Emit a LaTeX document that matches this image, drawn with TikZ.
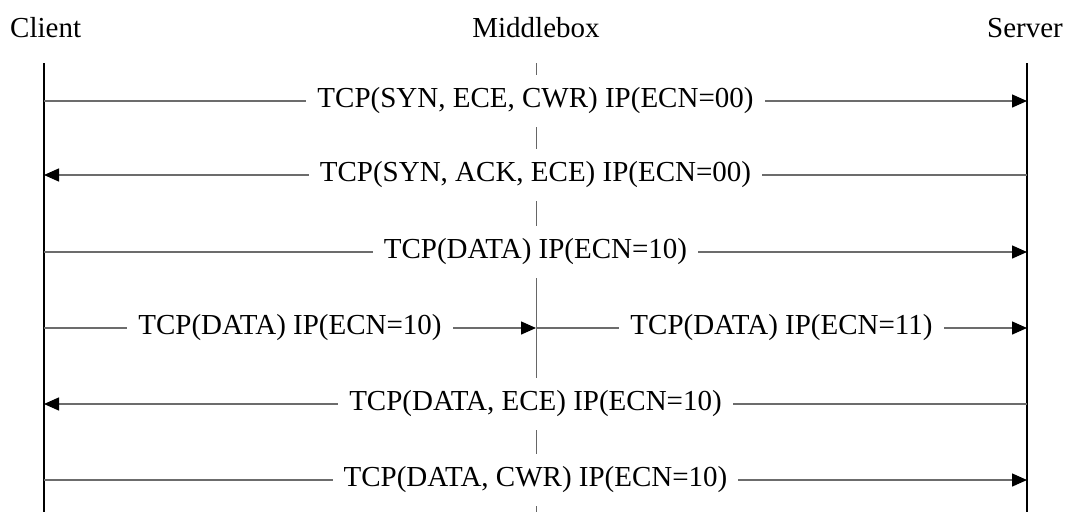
\documentclass[tikz,border=0pt]{standalone}
\usepackage{fontspec}
\setmainfont{Liberation Serif}
\usetikzlibrary{arrows.meta}
\tikzset{
  hdr/.style={inner sep=0pt,font=\fontsize{29}{34}\selectfont},
  life/.style={line width=1.1pt,black},
  midlife/.style={line width=1pt,gray!80!black},
  msg/.style={line width=1.4pt,gray!85!black,-{Triangle[length=15pt,width=13pt,black]}},
  lbl/.style={fill=white,inner xsep=11pt,inner ysep=13pt,font=\fontsize{29}{34}\selectfont,text=black}
}
\begin{document}
\begin{tikzpicture}[x=1pt,y=-1pt]
\useasboundingbox (0,0) rectangle (1065,512);
% headers
\node[hdr,anchor=base west] (client) at (10,37) {Client};
\node[hdr,anchor=base] (middle) at (536,37) {Middlebox};
\node[hdr,anchor=base east] (server) at (1063,37) {Server};
% lifeline ends
\coordinate (ctop) at (44,63);
\coordinate (cbot) at (44,512);
\coordinate (mtop) at (536,63);
\coordinate (mbot) at (536,512);
\coordinate (stop) at (1027,63);
\coordinate (sbot) at (1027,512);
% rows
\coordinate (r1) at (0,101);
\coordinate (r2) at (0,175);
\coordinate (r3) at (0,252);
\coordinate (r4) at (0,328);
\coordinate (r5) at (0,404);
\coordinate (r6) at (0,480);
% lifelines
\draw[life] (ctop) -- (cbot);
\draw[life] (stop) -- (sbot);
\draw[midlife] (mtop) -- (mbot);
% messages
\draw[msg] (ctop|-r1) -- node[lbl] (m1) {TCP(SYN, ECE, CWR) IP(ECN=00)} (stop|-r1);
\draw[msg] (stop|-r2) -- node[lbl] (m2) {TCP(SYN, ACK, ECE) IP(ECN=00)} (ctop|-r2);
\draw[msg] (ctop|-r3) -- node[lbl] (m3) {TCP(DATA) IP(ECN=10)} (stop|-r3);
\draw[msg] (ctop|-r4) -- node[lbl] (m4a) {TCP(DATA) IP(ECN=10)} (mtop|-r4);
\draw[msg] (mtop|-r4) -- node[lbl] (m4b) {TCP(DATA) IP(ECN=11)} (stop|-r4);
\draw[msg] (stop|-r5) -- node[lbl] (m5) {TCP(DATA, ECE) IP(ECN=10)} (ctop|-r5);
\draw[msg] (ctop|-r6) -- node[lbl] (m6) {TCP(DATA, CWR) IP(ECN=10)} (stop|-r6);
\end{tikzpicture}
\end{document}
